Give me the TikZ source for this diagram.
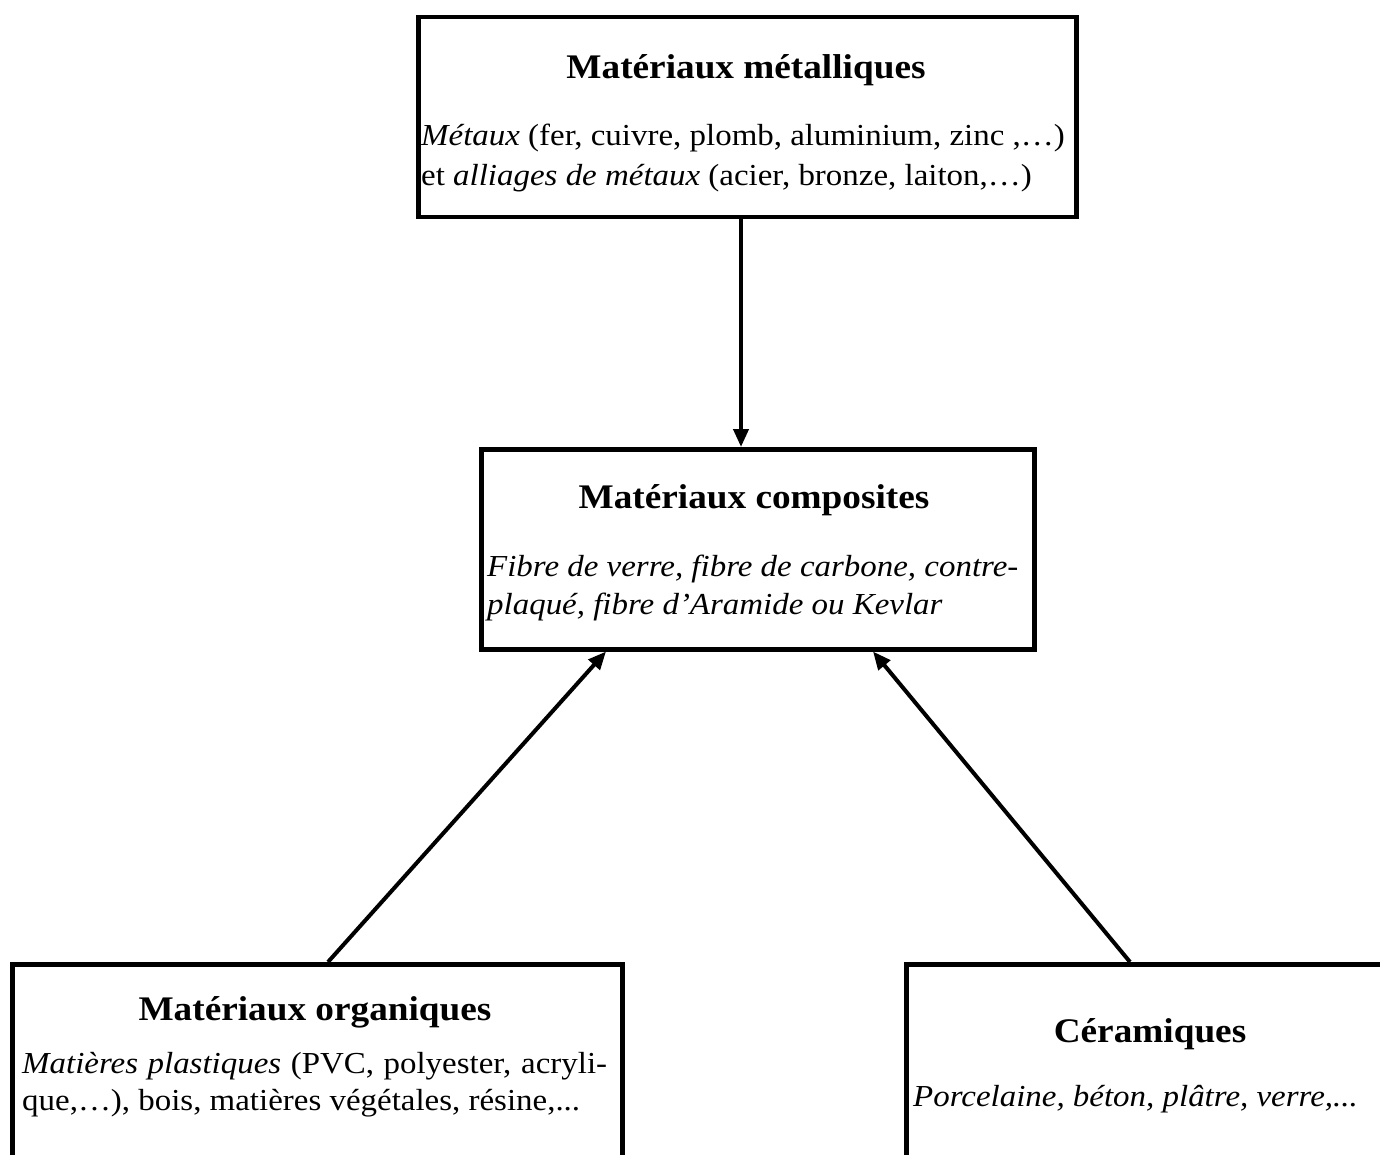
\documentclass[tikz,border=0pt]{standalone}
\usepackage{fontspec}
\setmainfont{Liberation Serif}[FakeStretch=1.08]
\usetikzlibrary{arrows.meta,calc}
\begin{document}
\begin{tikzpicture}[x=1pt,y=-1pt,
  box/.style={draw,line width=4.5pt,rectangle,inner sep=0pt,anchor=north west},
  ttl/.style={font=\fontsize{34.5}{40}\selectfont\bfseries,inner sep=0pt,anchor=base},
  body/.style={font=\fontsize{30.5}{38}\selectfont,inner sep=0pt,align=left,anchor=base west},
  arr/.style={line width=4pt,-{Triangle[length=18pt,width=15pt]}}]
\useasboundingbox (0,0) rectangle (1380,1155);
\clip (0,0) rectangle (1380,1155);
\fill[white] (0,0) rectangle (1380,1155);
% boxes
\node[box,minimum width=658pt,minimum height=200pt] (met) at (416,15) {};
\node[box,minimum width=553pt,minimum height=200pt] (comp) at (479,447) {};
\node[box,minimum width=610pt,minimum height=260pt] (org) at (10,962) {};
\node[box,minimum width=560pt,minimum height=260pt] (cer) at (904,962) {};
% texts
\node[ttl] (mett) at (746,79) {Matériaux métalliques};
\node[body] (metb) at (421,146) {\textit{Métaux} (fer, cuivre, plomb, aluminium, zinc ,…)};
\node[body] (metc) at (421,186) {et \textit{alliages de métaux} (acier, bronze, laiton,…)};
\node[ttl] (compt) at (754,508) {Matériaux composites};
\node[body] (compb) at (487,576) {\itshape Fibre de verre, fibre de carbone, contre-};
\node[body] (compc) at (487,614) {\itshape plaqué, fibre d’Aramide ou Kevlar};
\node[ttl] (orgt) at (315,1020) {Matériaux organiques};
\node[body] (orgb) at (22,1073) {\makebox[585pt][s]{\textit{Matières plastiques} (PVC, polyester, acryli-}};
\node[body] (orgc) at (22,1110) {que,…), bois, matières végétales, résine,...};
\node[ttl] (cert) at (1150,1042) {Céramiques};
\node[body] (cerb) at (913,1106) {\itshape Porcelaine, béton, plâtre, verre,...};
% arrows
\draw[arr] ($(met.south west)+(325,0)$) -- ($(comp.north west)+(262,0)$);
\draw[arr] ($(org.north west)+(318,0)$) -- ($(comp.south west)+(127,0)$);
\draw[arr] ($(cer.north west)+(226,0)$) -- ($(comp.south west)+(394,0)$);
\end{tikzpicture}
\end{document}
